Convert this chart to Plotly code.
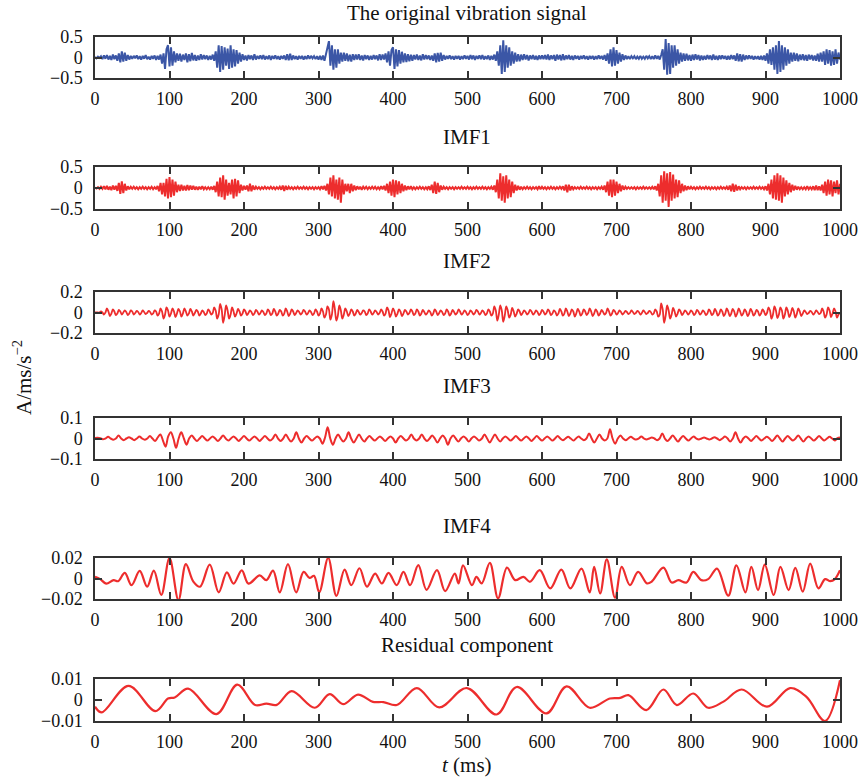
import plotly.graph_objects as go

# ---------------- data ----------------
original = [
 0.01, -0.02, 0.02, -0.01, 0.03, -0.04, 0.05, -0.03, 0.06, -0.05, 0.04, -0.06, 0.07, -0.04, 0.05, -0.08, 0.1, -0.12, 0.15, -0.1, 0.12, -0.08, 0.06, -0.05, 0.04,
 -0.03, 0.04, -0.02, 0.05, -0.04, 0.03, -0.05, 0.04, -0.03, 0.06, -0.04, 0.02, -0.05, 0.04, -0.03, 0.05, -0.06, 0.04, -0.05, 0.07, -0.15, 0.1, -0.28, 0.2, 0.3,
 -0.22, 0.25, -0.2, 0.15, -0.12, 0.1, -0.08, 0.09, -0.1, 0.07, -0.06, 0.1, -0.12, 0.08, -0.09, 0.11, -0.07, 0.06, -0.08, 0.05, -0.06, 0.08, -0.05, 0.06, -0.04,
 0.05, -0.06, 0.04, -0.05, 0.07, -0.08, 0.15, -0.25, 0.3, -0.35, 0.28, -0.3, 0.25, -0.2, 0.22, -0.28, 0.3, -0.25, 0.2, -0.22, 0.18, -0.15, 0.12, -0.1, 0.08,
 -0.06, 0.05, -0.07, 0.06, -0.04, 0.05, -0.06, 0.08, -0.05, 0.04, -0.03, 0.05, -0.04, 0.06, -0.05, 0.03, -0.04, 0.05, -0.06, 0.04, -0.03, 0.05, -0.04, 0.03, -0.05,
 0.04, -0.03, 0.05, -0.06, 0.08, -0.07, 0.09, -0.06, 0.05, -0.04, 0.03, -0.05, 0.04, -0.03, 0.04, -0.05, 0.03, -0.04, 0.05, -0.03, 0.04, -0.02, 0.03, -0.04, 0.03,
 -0.05, 0.04, -0.06, 0.05, -0.08, 0.06, 0.2, 0.4, -0.2, 0.3, -0.3, 0.2, -0.25, 0.2, -0.15, 0.12, -0.1, 0.12, -0.08, 0.1, -0.09, 0.07, -0.1, 0.08, -0.06,
 0.07, -0.05, 0.08, -0.06, 0.05, -0.07, 0.06, -0.04, 0.05, -0.06, 0.04, -0.05, 0.06, -0.04, 0.05, -0.07, 0.08, -0.06, 0.07, -0.05, 0.1, -0.12, 0.15, -0.2, 0.18,
 0.25, -0.28, 0.2, -0.22, 0.18, -0.15, 0.14, -0.12, 0.1, -0.11, 0.08, -0.09, 0.07, -0.08, 0.06, -0.05, 0.07, -0.06, 0.05, -0.07, 0.08, -0.05, 0.06, -0.04, 0.05,
 -0.06, 0.05, -0.08, 0.1, -0.12, 0.11, -0.1, 0.12, -0.08, 0.06, -0.05, 0.04, -0.03, 0.05, -0.04, 0.03, -0.05, 0.04, -0.03, 0.04, -0.05, 0.03, -0.04, 0.05, -0.03,
 0.04, -0.05, 0.06, -0.04, 0.05, -0.06, 0.04, -0.03, 0.05, -0.04, 0.06, -0.05, 0.03, -0.04, 0.05, -0.06, 0.04, -0.05, 0.07, -0.08, 0.15, -0.2, 0.3, -0.4, 0.42,
 -0.35, 0.3, -0.25, 0.25, -0.2, 0.15, -0.15, 0.12, -0.1, 0.08, -0.09, 0.07, -0.06, 0.08, -0.05, 0.06, -0.07, 0.05, -0.04, 0.06, -0.05, 0.04, -0.06, 0.05, -0.04,
 0.05, -0.04, 0.06, -0.05, 0.07, -0.06, 0.05, -0.04, 0.06, -0.08, 0.07, -0.05, 0.06, -0.07, 0.08, -0.06, 0.05, -0.04, 0.06, -0.05, 0.04, -0.06, 0.05, -0.03, 0.04,
 -0.05, 0.04, -0.03, 0.05, -0.04, 0.03, -0.05, 0.04, -0.03, 0.04, -0.05, 0.03, -0.04, 0.05, -0.03, 0.04, -0.05, 0.06, -0.08, 0.1, -0.15, 0.2, -0.22, 0.25, -0.2,
 0.18, -0.15, 0.12, -0.1, 0.08, -0.06, 0.05, -0.04, 0.03, -0.04, 0.03, -0.02, 0.03, -0.04, 0.02, -0.03, 0.04, -0.03, 0.02, -0.03, 0.04, -0.02, 0.03, -0.04, 0.03,
 -0.04, 0.05, -0.03, 0.04, -0.05, 0.06, 0.2, -0.3, 0.45, -0.42, 0.35, -0.4, 0.3, -0.25, 0.3, -0.2, 0.2, -0.15, 0.12, -0.1, 0.1, -0.08, 0.09, -0.07, 0.06,
 -0.08, 0.07, -0.06, 0.08, -0.05, 0.06, -0.07, 0.05, -0.06, 0.04, -0.05, 0.06, -0.04, 0.05, -0.06, 0.07, -0.05, 0.04, -0.06, 0.05, -0.04, 0.05, -0.03, 0.04, -0.05,
 0.04, -0.05, 0.06, -0.04, 0.05, -0.08, 0.1, -0.09, 0.08, -0.1, 0.07, -0.06, 0.05, -0.04, 0.05, -0.03, 0.04, -0.05, 0.03, -0.04, 0.03, -0.05, 0.04, -0.06, 0.05,
 -0.08, 0.1, -0.15, 0.2, -0.18, 0.25, -0.3, 0.3, -0.4, 0.4, -0.35, 0.3, -0.3, 0.25, -0.2, 0.2, -0.15, 0.12, -0.1, 0.12, -0.08, 0.1, -0.09, 0.07, -0.06,
 0.08, -0.07, 0.06, -0.08, 0.07, -0.05, 0.06, -0.07, 0.05, -0.08, 0.09, -0.1, 0.12, -0.1, 0.15, -0.18, 0.2, -0.15, 0.18, -0.2, 0.15, -0.18, 0.2, -0.15, 0.12,
 -0.05]

imf1 = [
 0.01, -0.01, 0.02, -0.02, 0.03, -0.02, 0.04, -0.03, 0.05, -0.04, 0.03, -0.05, 0.06, -0.04, 0.05, -0.07, 0.12, -0.14, 0.16, -0.12, 0.1, -0.06, 0.04, -0.03, 0.03,
 -0.02, 0.03, -0.02, 0.02, -0.03, 0.02, -0.02, 0.03, -0.02, 0.02, -0.03, 0.02, -0.02, 0.03, -0.03, 0.02, -0.03, 0.05, -0.08, 0.12, -0.15, 0.12, -0.2, 0.22, -0.25,
 0.26, -0.22, 0.2, -0.18, 0.15, -0.1, 0.08, -0.07, 0.08, -0.06, 0.05, -0.06, 0.07, -0.05, 0.06, -0.04, 0.05, -0.04, 0.03, -0.04, 0.03, -0.03, 0.04, -0.03, 0.02,
 -0.03, 0.02, -0.03, 0.03, -0.04, 0.05, -0.1, 0.15, -0.2, 0.25, -0.22, 0.3, -0.28, 0.2, -0.18, 0.12, -0.15, 0.2, -0.25, 0.22, -0.2, 0.18, -0.12, 0.08, -0.06,
 0.05, -0.04, 0.06, -0.08, 0.1, -0.08, 0.06, -0.04, 0.03, -0.02, 0.02, -0.03, 0.02, -0.02, 0.03, -0.02, 0.02, -0.02, 0.03, -0.02, 0.02, -0.03, 0.02, -0.02, 0.03,
 -0.04, 0.06, -0.07, 0.05, -0.04, 0.03, -0.02, 0.02, -0.03, 0.02, -0.02, 0.03, -0.02, 0.02, -0.02, 0.03, -0.02, 0.02, -0.03, 0.02, -0.02, 0.02, -0.03, 0.02, -0.02,
 0.02, -0.03, 0.04, -0.03, 0.05, -0.06, 0.1, -0.15, 0.25, -0.2, 0.3, -0.25, 0.2, -0.28, 0.25, -0.35, 0.2, -0.15, 0.1, -0.08, 0.1, -0.12, 0.1, -0.08, 0.06,
 -0.05, 0.04, -0.03, 0.03, -0.04, 0.03, -0.02, 0.03, -0.03, 0.02, -0.02, 0.03, -0.02, 0.03, -0.03, 0.02, -0.03, 0.04, -0.03, 0.05, -0.06, 0.1, -0.12, 0.15, -0.18,
 0.2, -0.22, 0.18, -0.15, 0.16, -0.12, 0.1, -0.08, 0.06, -0.05, 0.04, -0.03, 0.04, -0.03, 0.02, -0.03, 0.02, -0.02, 0.03, -0.02, 0.02, -0.03, 0.02, -0.03, 0.04,
 -0.05, 0.08, -0.12, 0.15, -0.14, 0.12, -0.1, 0.06, -0.04, 0.03, -0.02, 0.02, -0.03, 0.02, -0.02, 0.02, -0.03, 0.02, -0.02, 0.02, -0.02, 0.03, -0.02, 0.02, -0.02,
 0.03, -0.02, 0.02, -0.03, 0.02, -0.02, 0.03, -0.02, 0.02, -0.02, 0.03, -0.02, 0.02, -0.03, 0.02, -0.02, 0.03, -0.04, 0.06, -0.1, 0.2, -0.25, 0.35, -0.3, 0.28,
 -0.35, 0.3, -0.25, 0.2, -0.22, 0.15, -0.12, 0.08, -0.06, 0.05, -0.04, 0.03, -0.03, 0.02, -0.02, 0.03, -0.02, 0.02, -0.03, 0.02, -0.02, 0.02, -0.03, 0.04, -0.03,
 0.03, -0.02, 0.02, -0.03, 0.02, -0.02, 0.03, -0.02, 0.02, -0.03, 0.02, -0.02, 0.03, -0.02, 0.04, -0.06, 0.08, -0.1, 0.08, -0.06, 0.04, -0.03, 0.02, -0.02, 0.02,
 -0.02, 0.03, -0.02, 0.02, -0.02, 0.03, -0.02, 0.02, -0.03, 0.02, -0.02, 0.02, -0.03, 0.02, -0.02, 0.03, -0.04, 0.06, -0.1, 0.15, -0.18, 0.2, -0.22, 0.2, -0.18,
 0.15, -0.12, 0.1, -0.08, 0.06, -0.04, 0.03, -0.02, 0.02, -0.02, 0.02, -0.02, 0.02, -0.03, 0.02, -0.02, 0.02, -0.02, 0.03, -0.02, 0.02, -0.02, 0.02, -0.02, 0.03,
 -0.03, 0.04, -0.06, 0.1, -0.2, 0.3, -0.35, 0.4, -0.3, 0.35, -0.45, 0.38, -0.3, 0.32, -0.25, 0.2, -0.22, 0.18, -0.12, 0.1, -0.08, 0.06, -0.05, 0.04, -0.03,
 0.03, -0.02, 0.02, -0.03, 0.02, -0.02, 0.03, -0.02, 0.02, -0.02, 0.03, -0.02, 0.02, -0.03, 0.02, -0.02, 0.02, -0.03, 0.02, -0.02, 0.03, -0.02, 0.02, -0.02, 0.03,
 -0.04, 0.06, -0.08, 0.1, -0.09, 0.08, -0.06, 0.04, -0.03, 0.02, -0.02, 0.02, -0.03, 0.02, -0.02, 0.02, -0.02, 0.03, -0.02, 0.02, -0.02, 0.03, -0.02, 0.02, -0.03,
 0.04, -0.06, 0.1, -0.15, 0.2, -0.25, 0.3, -0.28, 0.35, -0.3, 0.3, -0.35, 0.25, -0.2, 0.18, -0.15, 0.12, -0.1, 0.08, -0.06, 0.05, -0.04, 0.03, -0.03, 0.02,
 -0.03, 0.02, -0.03, 0.04, -0.03, 0.02, -0.03, 0.04, -0.05, 0.06, -0.05, 0.04, -0.06, 0.08, -0.12, 0.15, -0.18, 0.2, -0.15, 0.18, -0.2, 0.15, -0.12, 0.18, -0.15,
 0.1]

imf2 = [
 0, 0, 0, 0,  0.01, 0, -0.02, 0,  0.04, 0.01, -0.035, -0.01,  0.03, 0.01, -0.025, -0.01,
 0.025, 0.01, -0.02, 0,  0.02, 0.005, -0.025, -0.01,  0.02, 0.01, -0.02, -0.005,  0.015, 0.005, -0.02, -0.005,
 0.02, 0.005, -0.015, -0.005,  0.015, 0.005, -0.02, -0.01,  0.02, 0.01, -0.03, -0.01,  0.04, 0.01, -0.06, -0.02,
 0.05, 0.02, -0.04, -0.01,  0.04, 0.01, -0.045, -0.01,  0.035, 0.01, -0.04, -0.01,  0.04, 0.01, -0.03, -0.01,
 0.035, 0.01, -0.03, -0.005,  0.025, 0.01, -0.03, -0.01,  0.02, 0.005, -0.025, -0.01,  0.03, 0.01, -0.02, -0.005,
 0.05, 0.02, -0.06, -0.02,  0.085, 0.03, -0.1, -0.03,  0.07, 0.02, -0.06, -0.02,  0.05, 0.01, -0.04, -0.01,
 0.035, 0.01, -0.03, -0.01,  0.03, 0.01, -0.025, -0.005,  0.02, 0.005, -0.025, -0.01,  0.025, 0.01, -0.02, -0.005,
 0.02, 0.005, -0.025, -0.01,  0.03, 0.01, -0.025, -0.01,  0.035, 0.01, -0.03, -0.01,  0.025, 0.01, -0.03, -0.01,
 0.04, 0.01, -0.035, -0.01,  0.03, 0.01, -0.025, -0.005,  0.02, 0.005, -0.02, -0.005,  0.025, 0.01, -0.02, -0.005,
 0.02, 0.005, -0.025, -0.01,  0.03, 0.01, -0.03, -0.01,  0.04, 0.01, -0.05, -0.02,  0.06, 0.03, -0.07, -0.02,
 0.11, 0.03, -0.08, -0.03,  0.07, 0.02, -0.06, -0.02,  0.04, 0.01, -0.035, -0.01,  0.03, 0.01, -0.03, -0.01,
 0.025, 0.005, -0.02, -0.005,  0.02, 0.01, -0.025, -0.01,  0.03, 0.01, -0.02, -0.005,  0.02, 0.005, -0.02, -0.005,
 0.03, 0.01, -0.03, -0.01,  0.05, 0.02, -0.045, -0.01,  0.04, 0.01, -0.04, -0.01,  0.03, 0.01, -0.035, -0.01,
 0.025, 0.01, -0.02, -0.005,  0.03, 0.01, -0.025, -0.01,  0.03, 0.01, -0.03, -0.01,  0.025, 0.005, -0.02, -0.005,
 0.02, 0.005, -0.03, -0.01,  0.03, 0.01, -0.025, -0.005,  0.02, 0.005, -0.025, -0.01,  0.03, 0.01, -0.03, -0.01,
 0.025, 0.005, -0.02, -0.005,  0.03, 0.01, -0.02, -0.005,  0.02, 0.005, -0.025, -0.01,  0.02, 0.005, -0.02, -0.005,
 0.025, 0.01, -0.02, -0.005,  0.02, 0.005, -0.025, -0.01,  0.03, 0.01, -0.03, -0.01,  0.06, 0.02, -0.08, -0.02,
 0.07, 0.02, -0.09, -0.03,  0.06, 0.02, -0.05, -0.02,  0.045, 0.01, -0.04, -0.01,  0.03, 0.01, -0.025, -0.005,
 0.02, 0.005, -0.02, -0.005,  0.025, 0.01, -0.02, -0.005,  0.02, 0.005, -0.025, -0.01,  0.025, 0.01, -0.02, -0.005,
 0.03, 0.01, -0.025, -0.01,  0.02, 0.005, -0.03, -0.01,  0.035, 0.01, -0.03, -0.01,  0.04, 0.01, -0.035, -0.01,
 0.03, 0.01, -0.04, -0.01,  0.035, 0.01, -0.03, -0.01,  0.03, 0.01, -0.025, -0.005,  0.04, 0.01, -0.035, -0.01,
 0.03, 0.01, -0.03, -0.01,  0.025, 0.005, -0.02, -0.005,  0.04, 0.01, -0.03, -0.01,  0.025, 0.01, -0.02, -0.005,
 0.02, 0.005, -0.02, -0.005,  0.015, 0.005, -0.015, -0.005,  0.02, 0.005, -0.015, -0.005,  0.015, 0.005, -0.02, -0.005,
 0.02, 0.005, -0.015, -0.005,  0.015, 0.005, -0.02, -0.01,  0.03, 0.01, -0.04, -0.02,  0.09, 0.03, -0.1, -0.03,
 0.07, 0.02, -0.06, -0.02,  0.045, 0.01, -0.04, -0.01,  0.03, 0.01, -0.025, -0.005,  0.02, 0.005, -0.02, -0.005,
 0.02, 0.005, -0.025, -0.01,  0.025, 0.01, -0.02, -0.005,  0.02, 0.005, -0.025, -0.01,  0.03, 0.01, -0.025, -0.01,
 0.035, 0.01, -0.03, -0.01,  0.03, 0.01, -0.035, -0.01,  0.04, 0.01, -0.035, -0.01,  0.035, 0.01, -0.04, -0.01,
 0.04, 0.01, -0.03, -0.01,  0.03, 0.01, -0.035, -0.01,  0.035, 0.01, -0.03, -0.01,  0.025, 0.01, -0.03, -0.01,
 0.03, 0.01, -0.025, -0.005,  0.05, 0.02, -0.06, -0.02,  0.06, 0.02, -0.055, -0.02,  0.05, 0.02, -0.06, -0.02,
 0.05, 0.015, -0.045, -0.01,  0.045, 0.01, -0.05, -0.015,  0.04, 0.01, -0.035, -0.01,  0.02, 0.005, -0.015, -0.005,
 0.015, 0.005, -0.02, -0.005,  0.02, 0.005, -0.015, -0.005,  0.04, 0.01, -0.05, -0.02,  0.05, 0.02, -0.045, -0.01,
 0.04, 0.01, -0.05, -0.02,
 0.0]

imf3 = [
 0.003, 0.004, 0.002, -0.004,  0, 0.008, 0, -0.006,  0, 0.015, 0, -0.008,  0, 0.006, 0, -0.008,
 0, 0.01, 0, -0.006,  0, 0.012, 0, -0.012,  0.005, 0.02, -0.01, -0.04,  0.01, 0.03, 0, -0.045,
 0, 0.03, 0, -0.03,  0, 0.015, 0, -0.012,  0, 0.012, 0, -0.01,  0, 0.01, 0, -0.012,
 0, 0.015, 0, -0.01,  0, 0.01, 0, -0.012,  0, 0.012, 0, -0.01,  0, 0.01, 0, -0.012,
 0, 0.012, 0, -0.01,  0, 0.02, 0, -0.012,  0, 0.02, 0, -0.015,  0, 0.03, 0, -0.02,
 0, 0.012, 0, -0.01,  0, 0.01, 0, -0.025,  0.005, 0.055, 0, -0.03,  0, 0.02, 0, -0.015,
 0, 0.03, 0, -0.02,  0, 0.02, 0, -0.015,  0, 0.012, 0, -0.01,  0, 0.01, 0, -0.012,
 0, 0.01, 0, -0.02,  0, 0.012, 0, -0.01,  0, 0.02, 0, -0.01,  0, 0.02, 0, -0.012,
 0, 0.015, 0, -0.02,  0, 0.015, 0, -0.03,  0, 0.015, 0, -0.015,  0, 0.01, 0, -0.015,
 0, 0.01, 0, -0.01,  0, 0.02, 0, -0.02,  0, 0.02, 0, -0.015,  0, 0.01, 0, -0.01,
 0, 0.012, 0, -0.01,  0, 0.01, 0, -0.012,  0, 0.012, 0, -0.01,  0, 0.01, 0, -0.01,
 0, 0.012, 0, -0.008,  0, 0.008, 0, -0.01,  0, 0.01, 0, -0.008,  0, 0.025, 0, -0.02,
 0, 0.02, 0, -0.01,  0, 0.045, 0, -0.025,  0, 0.015, 0, -0.008,  0, 0.008, 0, -0.005,
 0, 0.01, 0, -0.005,  0, 0.005, 0, -0.008,  0, 0.025, 0, -0.012,  0, 0.015, 0, -0.015,
 0, 0.012, 0, -0.01,  0, 0.01, 0, -0.005,  0, 0.005, 0, -0.005,  0, 0.006, 0, -0.008,
 0, 0.01, 0, -0.015,  0, 0.03, 0, -0.02,  0, 0.01, 0, -0.012,  0, 0.012, 0, -0.01,
 0, 0.008, 0, -0.012,  0, 0.015, 0, -0.015,  0, 0.012, 0, -0.01,  0, 0.015, 0, -0.015,
 0, 0.01, 0, -0.01,  0, 0.012, 0, -0.01,  0, 0.008, 0, -0.01,
 0.002, 0.005]

imf4_t = [0, 7, 15, 25, 31, 40, 49, 60, 70, 79, 89, 100, 112, 122, 132, 141, 154, 166, 177, 186,
          197, 206, 221, 230, 239, 248, 259, 270, 280, 288, 294, 301, 313, 324, 335, 344, 355, 365, 376, 385,
          394, 405, 414, 423, 434, 445, 459, 470, 483, 488, 494, 506, 512, 519, 530, 541, 553, 564, 575, 584,
          597, 611, 626, 638, 653, 664, 670, 678, 687, 698, 707, 718, 729, 741, 747, 763, 774, 783, 794, 803,
          814, 823, 835, 850, 861, 873, 881, 890, 899, 911, 920, 931, 940, 950, 960, 971, 980, 987, 993, 1000]
imf4_v = [0.0016, -0.0006, -0.005, -0.0016, -0.0026, 0.0055, -0.0065, 0.0074, -0.008, 0.0077, -0.016, 0.02, -0.021, 0.014, -0.003, -0.008, 0.0135, -0.0135, 0.006, -0.005,
          0.008, -0.005, 0.003, -0.0016, 0.0077, -0.0135, 0.014, -0.0135, 0.0064, 0.0006, 0.0026, -0.0135, 0.02, -0.017, 0.0087, -0.0065, 0.01, -0.008, 0.0048, -0.0048,
          0.0055, -0.0065, 0.0064, -0.0065, 0.013, -0.011, 0.0081, -0.0123, 0.0048, -0.0048, 0.0129, -0.0065, 0.0016, -0.0048, 0.0152, -0.0194, 0.0106, -0.0016, 0.0016, -0.0032,
          0.0081, -0.0097, 0.0087, -0.0097, 0.0097, -0.0135, 0.0113, -0.0145, 0.0187, -0.0187, 0.0113, -0.0065, 0.0065, -0.0048, -0.0032, 0.0106, -0.0039, -0.0016, -0.0039, 0.0065,
          -0.0016, -0.0006, 0.0097, -0.0168, 0.0129, -0.0135, 0.0113, -0.0113, 0.0135, -0.0161, 0.0113, -0.0113, 0.0103, -0.0129, 0.0145, -0.0097, -0.0006, -0.0026, -0.0006, 0.0081]

res_t = [0, 9, 45, 81, 98, 107, 125, 163, 191, 215, 230, 244, 264, 295, 315, 333, 353, 373, 387, 405,
         432, 462, 499, 539, 566, 606, 633, 664, 691, 705, 716, 740, 763, 781, 803, 823, 843, 868, 902, 933,
         955, 980, 1000]
res_v = [-0.0032, -0.0059, 0.0067, -0.0053, 0.0007, 0.0012, 0.0054, -0.0067, 0.0073, -0.0024, -0.0017, -0.0023, 0.0042, -0.0037, 0.0028, -0.002, 0.0026, -0.0009, -0.001, -0.0024,
         0.0057, -0.0035, 0.0057, -0.0069, 0.0062, -0.0064, 0.0065, -0.0037, 0.0007, 0.001, 0.0023, -0.0048, 0.005, -0.0024, 0.0031, -0.0037, -0.0009, 0.005, -0.0032, 0.0057,
         0.0015, -0.01, 0.0094]

titles = ["The original vibration signal", "IMF1", "IMF2", "IMF3", "IMF4", "Residual component"]
y_ranges = [0.5, 0.5, 0.2, 0.1, 0.02, 0.01]
y_ticktexts = [["\u22120.5", "0", "0.5"], ["\u22120.5", "0", "0.5"], ["\u22120.2", "0", "0.2"],
               ["\u22120.1", "0", "0.1"], ["\u22120.02", "0", "0.02"], ["\u22120.01", "0", "0.01"]]
x_ticks = [0, 100, 200, 300, 400, 500, 600, 700, 800, 900, 1000]

# ---------------- layout geometry (pixels) ----------------
W, H = 862, 778
x_left, x_right = 95, 840
panels_px = [(37, 78), (167, 209), (292, 333), (418, 459), (558, 599), (679, 721)]
title_px = [12.5, 136.5, 261, 386, 526, 645]

BLUE = "rgb(59,86,166)"
RED = "rgb(237,45,45)"
FONT = "Liberation Serif"


def time_grid(n):
    return [i * 1000.0 / (n - 1) for i in range(n)]


series = [
    (time_grid(len(original)), original, BLUE, 2.0, "linear"),
    (time_grid(len(imf1)), imf1, RED, 2.0, "linear"),
    (time_grid(len(imf2)), imf2, RED, 1.8, "spline"),
    (time_grid(len(imf3)), imf3, RED, 2.0, "spline"),
    (imf4_t, imf4_v, RED, 2.2, "spline"),
    (res_t, res_v, RED, 2.2, "spline"),
]

fig = go.Figure()
layout = dict(
    width=W, height=H, autosize=False, margin=dict(l=0, r=0, t=0, b=0, pad=0),
    paper_bgcolor="white", plot_bgcolor="white", showlegend=False,
    font=dict(family=FONT, size=18, color="#111"),
)
annotations = []

for i, (xs, ys, col, lw, shape) in enumerate(series):
    k = i + 1
    xa = "x" if k == 1 else f"x{k}"
    ya = "y" if k == 1 else f"y{k}"
    fig.add_trace(go.Scatter(x=xs, y=ys, mode="lines", xaxis=xa, yaxis=ya,
                             line=dict(color=col, width=lw, shape=shape, smoothing=1.0),
                             hoverinfo="skip"))
    top, bot = panels_px[i]
    ydom = [1 - bot / H, 1 - top / H]
    r = y_ranges[i]
    common = dict(showline=True, mirror="allticks", linecolor="#333", linewidth=1.5,
                  ticks="inside", ticklen=7, tickwidth=1.5, tickcolor="#333",
                  showgrid=False, zeroline=False, automargin=False,
                  tickfont=dict(family=FONT, size=18, color="#111"))
    layout[f"xaxis{'' if k == 1 else k}"] = dict(
        domain=[x_left / W, x_right / W], range=[0, 1000], anchor=ya,
        tickmode="array", tickvals=x_ticks, ticktext=[str(v) for v in x_ticks],
        ticklabelstandoff=4, **common)
    layout[f"yaxis{'' if k == 1 else k}"] = dict(
        domain=ydom, range=[-r, r], anchor=xa,
        tickmode="array", tickvals=[-r, 0, r], ticktext=y_ticktexts[i],
        ticklabelstandoff=7, **common)
    annotations.append(dict(text=titles[i], x=(x_left + x_right) / 2 / W, y=1 - title_px[i] / H,
                            xref="paper", yref="paper", showarrow=False,
                            xanchor="center", yanchor="middle",
                            font=dict(family=FONT, size=21, color="#111")))

annotations.append(dict(text="<i>t</i> (ms)", x=(x_left + x_right) / 2 / W, y=1 - 765 / H,
                        xref="paper", yref="paper", showarrow=False,
                        xanchor="center", yanchor="middle",
                        font=dict(family=FONT, size=21, color="#111")))
annotations.append(dict(text="A/ms/s<sup>\u22122</sup>", x=22 / W, y=1 - 378 / H,
                        xref="paper", yref="paper", showarrow=False, textangle=-90,
                        xanchor="center", yanchor="middle",
                        font=dict(family=FONT, size=21, color="#111")))
layout["annotations"] = annotations
fig.update_layout(**layout)
fig.write_html("out.html",
               post_script="document.body.style.margin='0';document.documentElement.style.overflow='hidden';")
